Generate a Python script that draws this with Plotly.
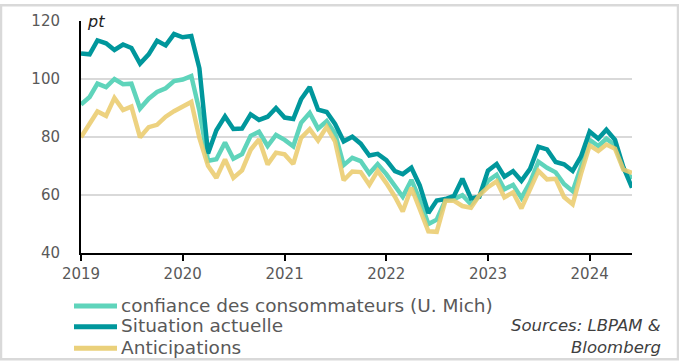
import pandas as pd
import plotly.graph_objects as go

start_month = "2019-01-01"
n_months = 66

confiance = [91.2, 93.8, 98.4, 97.2, 100.0, 98.2, 98.4, 89.8, 93.2, 95.5, 96.8, 99.3,
             99.8, 101.0, 89.1, 71.8, 72.3, 78.1, 72.5, 74.1, 80.4, 81.8, 76.9, 80.7,
             79.0, 76.8, 84.9, 88.3, 82.9, 85.5, 81.2, 70.3, 72.8, 71.7, 67.4, 70.6,
             67.2, 62.8, 59.4, 65.2, 58.4, 50.0, 51.5, 58.2, 58.6, 59.9, 56.8, 59.7,
             64.9, 67.0, 62.0, 63.5, 59.0, 64.4, 71.5, 69.4, 67.8, 63.8, 61.3, 69.7,
             79.0, 76.9, 79.4, 77.2, 69.1, 65.6]

situation = [108.8, 108.5, 113.3, 112.3, 110.0, 111.9, 110.7, 105.3, 108.5, 113.2, 111.6, 115.5,
             114.4, 114.8, 103.7, 74.3, 82.3, 87.1, 82.8, 82.9, 87.8, 85.9, 87.0, 90.0,
             86.7, 86.2, 93.0, 97.2, 89.4, 88.6, 84.5, 78.5, 80.1, 77.7, 73.6, 74.2,
             72.0, 68.2, 67.2, 69.4, 63.3, 53.8, 58.1, 58.6, 59.7, 65.6, 58.8, 59.4,
             68.4, 70.7, 66.3, 68.2, 64.9, 69.0, 76.6, 75.7, 71.4, 70.6, 68.3, 73.3,
             81.9, 79.4, 82.5, 79.0, 69.6, 62.5]

anticipations = [79.9, 84.4, 88.8, 87.3, 93.5, 89.3, 90.5, 79.9, 83.4, 84.2, 87.0, 88.9,
                 90.5, 92.1, 79.7, 70.1, 65.9, 72.3, 65.9, 68.5, 75.6, 79.2, 70.5, 74.6,
                 74.0, 70.7, 79.7, 82.7, 78.8, 83.5, 78.5, 65.1, 68.1, 67.9, 63.5, 68.3,
                 64.1, 59.4, 54.3, 62.5, 55.2, 47.5, 47.3, 58.0, 58.0, 56.2, 55.6, 59.9,
                 62.7, 64.7, 59.2, 60.9, 55.4, 61.7, 68.3, 65.4, 65.6, 59.3, 56.8, 67.4,
                 77.1, 75.2, 77.4, 76.0, 68.8, 67.6]

series_names = ["confiance des consommateurs (U. Mich)", "Situation actuelle", "Anticipations"]
y_ticks = [40, 60, 80, 100, 120]
x_ticks = ["2019-01-01", "2020-01-01", "2021-01-01", "2022-01-01", "2023-01-01", "2024-01-01"]
x_tick_labels = ["2019", "2020", "2021", "2022", "2023", "2024"]

dates = pd.date_range(start_month, periods=n_months, freq="MS")

colors = ["#5fd4bb", "#00979c", "rgba(234,204,110,0.88)"]
legend_colors = ["#5fd4bb", "#00979c", "#ead07a"]
FONT = "DejaVu Sans"
GRAY = "#595959"

W, H = 679, 362
L, R, T, B = 81, 632, 17, 253  # plot area in pixels


def px(x):
    return (x - L) / (R - L)


def py(y):
    return (B - y) / (B - T)


fig = go.Figure()
for vals, name, col in zip([confiance, situation, anticipations], series_names, colors):
    fig.add_trace(go.Scatter(x=dates, y=vals, mode="lines", name=name,
                             line=dict(color=col, width=4.5), showlegend=False))

shapes = []
annotations = []
# frame around the picture
shapes.append(dict(type="rect", xref="paper", yref="paper",
                   x0=px(1), x1=px(678), y0=py(361), y1=py(1),
                   line=dict(color="#d9d9d9", width=2.5), fillcolor="rgba(0,0,0,0)", layer="below"))
# custom legend
legend_y = [307, 328, 350]
for name, col, yy in zip(series_names, legend_colors, legend_y):
    shapes.append(dict(type="line", xref="paper", yref="paper",
                       x0=px(74), x1=px(117), y0=py(yy), y1=py(yy),
                       line=dict(color=col, width=5)))
    annotations.append(dict(text=name, xref="paper", yref="paper", x=px(119), y=py(yy - 1),
                            xanchor="left", yanchor="middle", showarrow=False,
                            font=dict(family=FONT, size=18.5, color=GRAY)))

annotations.append(dict(text="<i>Sources: LBPAM &amp;</i>", xref="paper", yref="paper",
                        x=px(663), y=py(327), xanchor="right", yanchor="middle",
                        showarrow=False, font=dict(family=FONT, size=16.5, color="#404040")))
annotations.append(dict(text="<i>Bloomberg</i>", xref="paper", yref="paper",
                        x=px(663), y=py(349), xanchor="right", yanchor="middle",
                        showarrow=False, font=dict(family=FONT, size=16.5, color="#404040")))
annotations.append(dict(text="<i>pt</i>", xref="paper", yref="paper",
                        x=px(85), y=py(18), xanchor="left", yanchor="middle",
                        showarrow=False, font=dict(family=FONT, size=16, color="#222222")))

fig.update_layout(
    width=W, height=H,
    margin=dict(l=L, r=W - R, t=T, b=H - B, pad=0),
    paper_bgcolor="white", plot_bgcolor="white",
    font=dict(family=FONT, color=GRAY),
    shapes=shapes, annotations=annotations,
    xaxis=dict(type="date", range=[dates[0], dates[-1]],
               tickvals=x_ticks, ticktext=x_tick_labels,
               ticks="outside", ticklen=6, tickwidth=2, tickcolor="black",
               showline=True, linecolor="black", linewidth=2,
               showgrid=False, zeroline=False,
               tickfont=dict(family=FONT, size=15, color=GRAY)),
    yaxis=dict(range=[40, 120], tickvals=y_ticks,
               showline=True, linecolor="black", linewidth=2,
               showgrid=True, gridcolor="#d9d9d9", gridwidth=1.5,
               zeroline=False, ticks="", ticklabelstandoff=16,
               tickfont=dict(family=FONT, size=15, color=GRAY)),
)

fig.write_html("out.html",
               config={"displayModeBar": False},
               post_script="document.body.style.margin='0';document.body.style.overflow='hidden';")
